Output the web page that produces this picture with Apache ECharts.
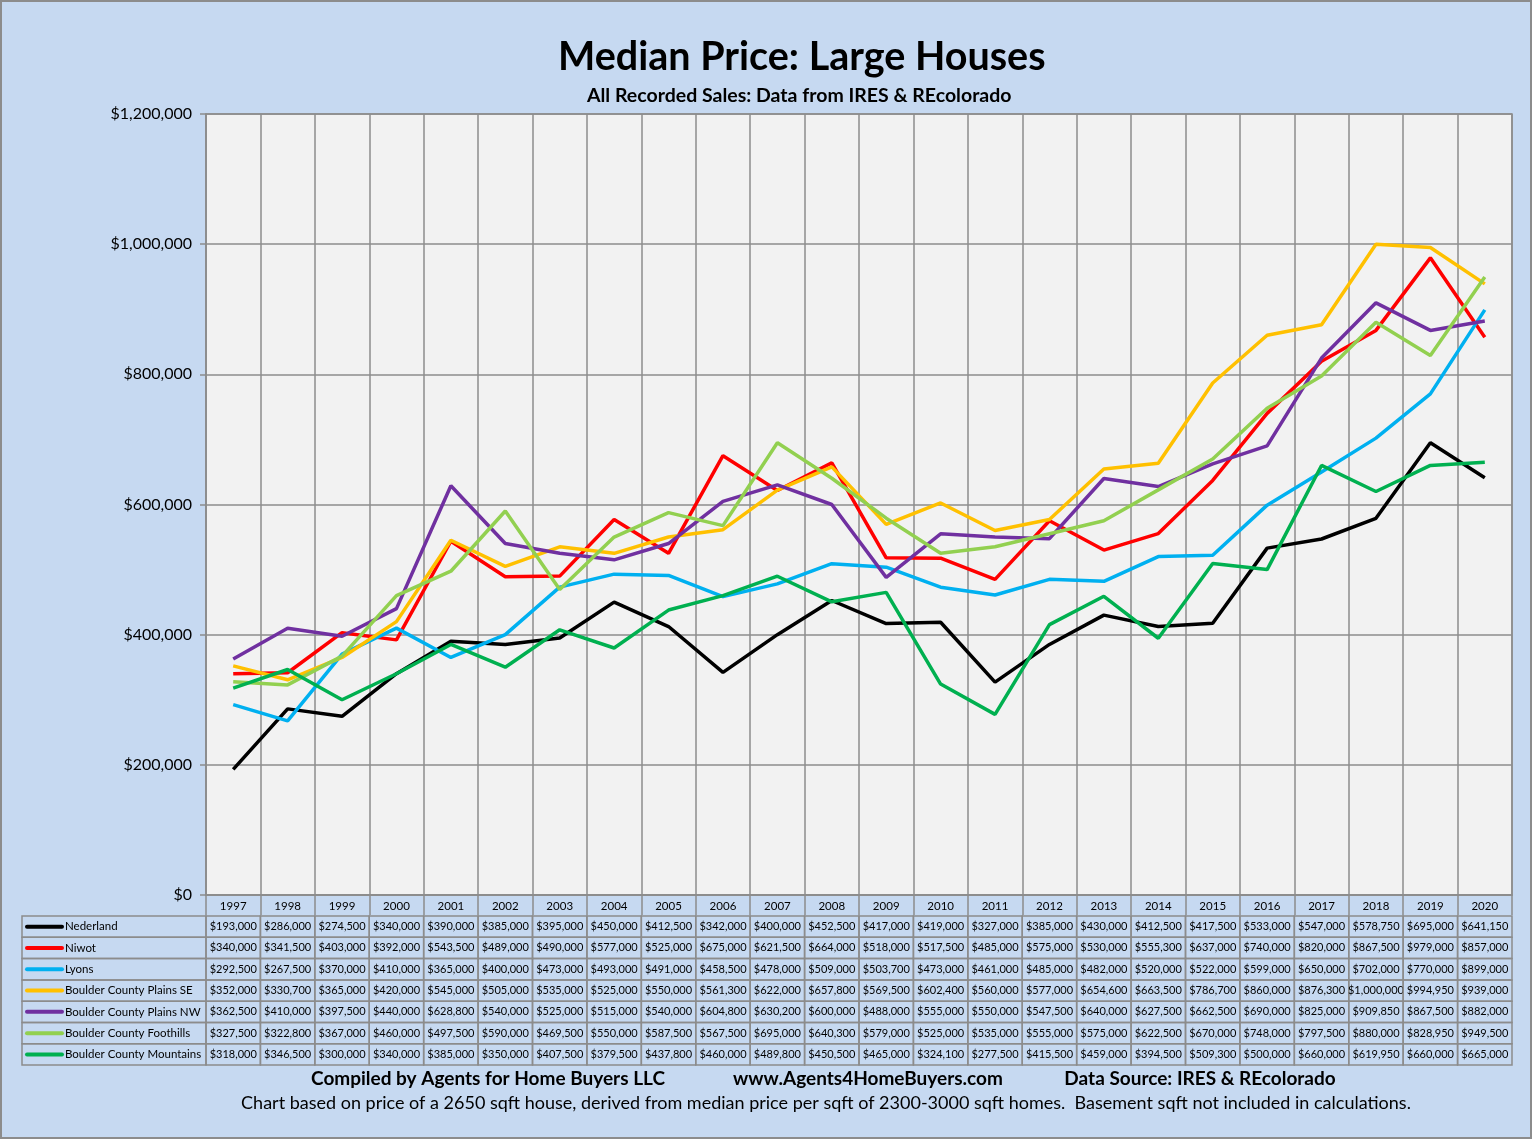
<!DOCTYPE html>
<html>
<head>
<meta charset="utf-8">
<script src="https://cdn.jsdelivr.net/npm/echarts@6/dist/echarts.min.js"></script>
<style>
html,body{margin:0;padding:0;background:#c6d9f1;}
#main{width:1532px;height:1139px;}
</style>
</head>
<body>
<div id="main"></div>
<script>
const years = ['1997','1998','1999','2000','2001','2002','2003','2004','2005','2006','2007','2008','2009','2010','2011','2012','2013','2014','2015','2016','2017','2018','2019','2020'];
const nederland = [193000,286000,274500,340000,390000,385000,395000,450000,412500,342000,400000,452500,417000,419000,327000,385000,430000,412500,417500,533000,547000,578750,695000,641150];
const niwot = [340000,341500,403000,392000,543500,489000,490000,577000,525000,675000,621500,664000,518000,517500,485000,575000,530000,555300,637000,740000,820000,867500,979000,857000];
const lyons = [292500,267500,370000,410000,365000,400000,473000,493000,491000,458500,478000,509000,503700,473000,461000,485000,482000,520000,522000,599000,650000,702000,770000,899000];
const plainsSE = [352000,330700,365000,420000,545000,505000,535000,525000,550000,561300,622000,657800,569500,602400,560000,577000,654600,663500,786700,860000,876300,1000000,994950,939000];
const plainsNW = [362500,410000,397500,440000,628800,540000,525000,515000,540000,604800,630200,600000,488000,555000,550000,547500,640000,627500,662500,690000,825000,909850,867500,882000];
const foothills = [327500,322800,367000,460000,497500,590000,469500,550000,587500,567500,695000,640300,579000,525000,535000,555000,575000,622500,670000,748000,797500,880000,828950,949500];
const mountains = [318000,346500,300000,340000,385000,350000,407500,379500,437800,460000,489800,450500,465000,324100,277500,415500,459000,394500,509300,500000,660000,619950,660000,665000];
const seriesNames = ['Nederland','Niwot','Lyons','Boulder County Plains SE','Boulder County Plains NW','Boulder County Foothills','Boulder County Mountains'];
const seriesData = [nederland, niwot, lyons, plainsSE, plainsNW, foothills, mountains];
const seriesColors = ['#000000','#ff0000','#00b0f0','#ffc000','#7030a0','#92d050','#00b050'];

const FONT = 'Lato, "Open Sans", sans-serif';
const GRID_COLOR = '#8c8c8c';
const money = v => '$' + Number(v).toLocaleString('en-US');

const chart = echarts.init(document.getElementById('main'), null, {renderer: 'canvas'});
chart.setOption({
  backgroundColor: '#c6d9f1',
  textStyle: {fontFamily: FONT},
  title: [{
    text: 'Median Price: Large Houses',
    left: 553, top: 32,
    textStyle: {fontFamily: FONT, fontSize: 39.5, fontWeight: 'bold', color: '#000'}
  }, {
    text: 'All Recorded Sales: Data from IRES & REcolorado',
    left: 582, top: 81,
    textStyle: {fontFamily: FONT, fontSize: 19.5, fontWeight: 'bold', color: '#000'}
  }],
  grid: {
    left: 206, right: 20, top: 114, bottom: 244,
    show: true, backgroundColor: '#f2f2f2', borderColor: GRID_COLOR, borderWidth: 1.5
  },
  xAxis: {
    type: 'category', data: years, boundaryGap: true,
    axisLine: {show: true, lineStyle: {color: GRID_COLOR, width: 1.5}},
    axisTick: {show: true, length: 20, lineStyle: {color: GRID_COLOR, width: 1.5}},
    axisLabel: {fontFamily: FONT, fontSize: 11.5, color: '#000', margin: 5},
    splitLine: {show: true, lineStyle: {color: GRID_COLOR, width: 1.5}}
  },
  yAxis: {
    type: 'value', min: 0, max: 1200000, interval: 200000,
    axisLine: {show: true, lineStyle: {color: GRID_COLOR, width: 1.5}},
    axisTick: {show: true, length: 6, lineStyle: {color: GRID_COLOR, width: 1.5}},
    axisLabel: {fontFamily: FONT, fontSize: 16, color: '#000', margin: 14, formatter: money},
    splitLine: {show: true, lineStyle: {color: GRID_COLOR, width: 1.5}}
  },
  series: seriesNames.map((n, i) => ({
    name: n, type: 'line', data: seriesData[i], symbol: 'none',
    lineStyle: {color: seriesColors[i], width: 3.5},
    itemStyle: {color: seriesColors[i]},
    animation: false
  })),
  animation: false
});

// Data table drawn below the plot, aligned with the category axis
const graphics = [];
const yZero = chart.convertToPixel({yAxisIndex: 0}, 0);
const x0 = chart.convertToPixel({xAxisIndex: 0}, 0);
const x1 = chart.convertToPixel({xAxisIndex: 0}, 1);
const band = x1 - x0;
const plotLeft = x0 - band / 2;
const tableLeft = 22;
const tableTop = yZero + 21;
const rowH = 21.3;

seriesNames.forEach((name, i) => {
  const y = tableTop + i * rowH;
  graphics.push({type: 'rect', shape: {x: tableLeft, y: y, width: plotLeft - tableLeft, height: rowH},
    style: {fill: 'none', stroke: GRID_COLOR, lineWidth: 1.5}, silent: true});
  graphics.push({type: 'line', shape: {x1: tableLeft + 5, y1: y + rowH / 2, x2: tableLeft + 40, y2: y + rowH / 2},
    style: {stroke: seriesColors[i], lineWidth: 4, lineCap: 'round'}, silent: true});
  graphics.push({type: 'text', x: tableLeft + 43, y: y + rowH / 2,
    style: {text: name, fontFamily: FONT, fontSize: 11.5, fill: '#000', textVerticalAlign: 'middle', verticalAlign: 'middle'}, silent: true});
  seriesData[i].forEach((v, j) => {
    const cx = chart.convertToPixel({xAxisIndex: 0}, j);
    graphics.push({type: 'rect', shape: {x: cx - band / 2, y: y, width: band, height: rowH},
      style: {fill: 'none', stroke: GRID_COLOR, lineWidth: 1.5}, silent: true});
    graphics.push({type: 'text', x: cx, y: y + rowH / 2,
      style: {text: money(v), fontFamily: FONT, fontSize: 11, fill: '#000', align: 'center', verticalAlign: 'middle', textAlign: 'center', textVerticalAlign: 'middle'}, silent: true});
  });
});

// footer
const footY = tableTop + 7 * rowH + 14;
const footStyle = {fontFamily: FONT, fontSize: 19, fontWeight: 'bold', fill: '#000', align: 'center', verticalAlign: 'middle', textAlign: 'center', textVerticalAlign: 'middle'};
graphics.push({type: 'text', x: 488, y: footY, style: Object.assign({text: 'Compiled by Agents for Home Buyers LLC'}, footStyle), silent: true});
graphics.push({type: 'text', x: 868, y: footY, style: Object.assign({text: 'www.Agents4HomeBuyers.com'}, footStyle), silent: true});
graphics.push({type: 'text', x: 1200, y: footY, style: Object.assign({text: 'Data Source: IRES & REcolorado'}, footStyle), silent: true});
graphics.push({type: 'text', x: 826, y: footY + 24, style: {text: 'Chart based on price of a 2650 sqft house, derived from median price per sqft of 2300-3000 sqft homes.  Basement sqft not included in calculations.', fontFamily: FONT, fontSize: 18, fill: '#000', align: 'center', verticalAlign: 'middle', textAlign: 'center', textVerticalAlign: 'middle'}, silent: true});
graphics.push({type: 'rect', shape: {x: 1, y: 1, width: 1530, height: 1137},
  style: {fill: 'none', stroke: '#8c8c8c', lineWidth: 2}, silent: true});

chart.setOption({graphic: graphics});
</script>
</body>
</html>
